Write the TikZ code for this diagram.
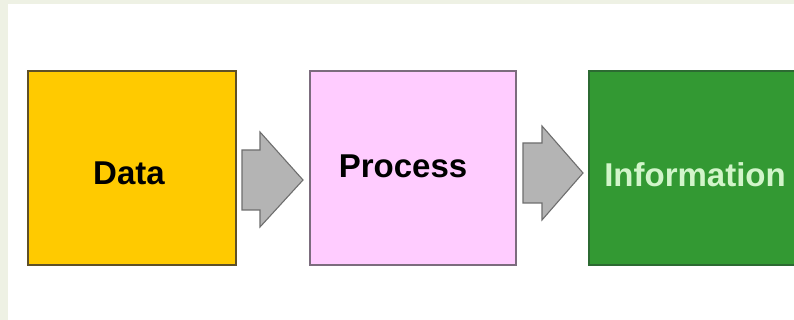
\documentclass[tikz,border=0pt]{standalone}
\usepackage{fontspec}
\setmainfont{Liberation Sans}
\definecolor{datafill}{HTML}{FFCA00}
\definecolor{dataline}{HTML}{5E5028}
\definecolor{procfill}{HTML}{FFCCFF}
\definecolor{procline}{HTML}{7C6C7E}
\definecolor{infofill}{HTML}{339933}
\definecolor{infoline}{HTML}{2C6A32}
\definecolor{infotext}{HTML}{D2F5CA}
\definecolor{arrfill}{HTML}{B4B4B4}
\definecolor{arrline}{HTML}{6E6E6E}
\definecolor{margin}{HTML}{EEF1E4}
\tikzset{
  box/.style={draw, line width=1.6pt, minimum height=194pt, inner sep=0pt},
  lbl/.style={anchor=base, inner sep=0pt, font=\fontsize{33}{36}\selectfont\bfseries},
  blockarrow/.style={draw=arrline, fill=arrfill, line width=1.1pt, line join=miter}
}
\begin{document}
\begin{tikzpicture}[x=1pt,y=-1pt]
\useasboundingbox (0,0) rectangle (794,320);
\clip (0,0) rectangle (794,320);
\fill[white] (0,0) rectangle (794,320);
\fill[margin] (0,0) rectangle (8,320);
\fill[margin] (0,0) rectangle (794,4);

% boxes
\node[box, draw=dataline, fill=datafill, minimum width=208pt] (data) at (132,168) {};
\node[box, draw=procline, fill=procfill, minimum width=206pt] (proc) at (413,168) {};
\node[box, draw=infoline, fill=infofill, minimum width=214pt] (info) at (696,168) {};

% labels
\node[lbl] (datatxt) at (129,185) {Data};
\node[lbl] (proctxt) at (403,178) {Process};
\node[lbl, text=infotext] (infotxt) at (695,187) {Information};

% arrows
\draw[blockarrow] (242,150) -- (260,150) -- (260,132) -- (303,180)
  -- (260,227) -- (260,210) -- (242,210) -- cycle;
\draw[blockarrow] (523,143) -- (542,143) -- (542,126) -- (583,173)
  -- (542,220) -- (542,203) -- (523,203) -- cycle;

\end{tikzpicture}
\end{document}
